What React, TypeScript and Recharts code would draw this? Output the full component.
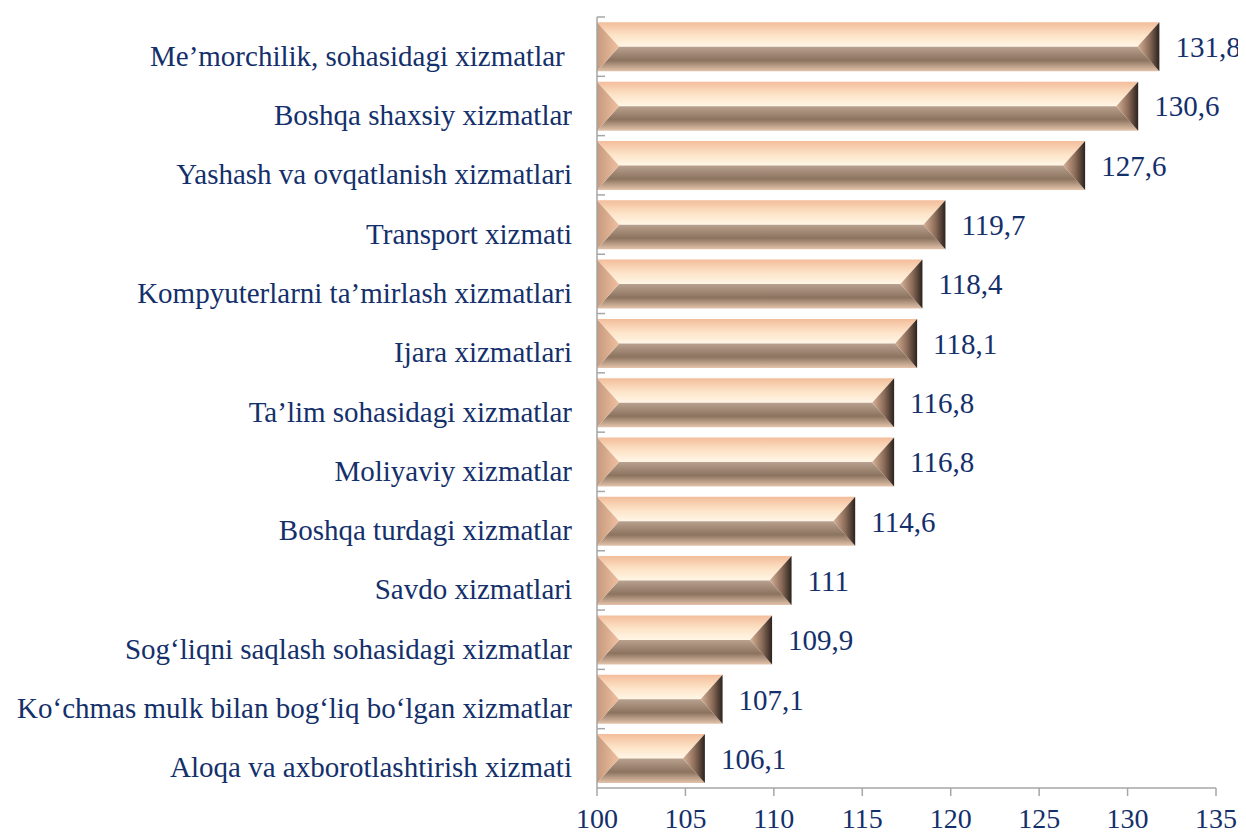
import React from 'react';
import { BarChart, Bar, XAxis, YAxis, LabelList } from 'recharts';

const categories = [
  'Me’morchilik, sohasidagi xizmatlar ',
  'Boshqa shaxsiy xizmatlar',
  'Yashash va ovqatlanish xizmatlari',
  'Transport xizmati',
  'Kompyuterlarni ta’mirlash xizmatlari',
  'Ijara xizmatlari',
  'Ta’lim sohasidagi xizmatlar',
  'Moliyaviy xizmatlar',
  'Boshqa turdagi xizmatlar',
  'Savdo xizmatlari',
  'Sog‘liqni saqlash sohasidagi xizmatlar',
  'Ko‘chmas mulk bilan bog‘liq bo‘lgan xizmatlar',
  'Aloqa va axborotlashtirish xizmati',
];

const values = [131.8, 130.6, 127.6, 119.7, 118.4, 118.1, 116.8, 116.8, 114.6, 111, 109.9, 107.1, 106.1];

const xTicks = [100, 105, 110, 115, 120, 125, 130, 135];

const data = categories.map((name, i) => ({ name, value: values[i] }));

const navy = '#14306b';
const axisGrey = '#a6a6a6';
const fontFamily = '"Liberation Serif", "Times New Roman", serif';

const chartWidth = 1238;
const chartHeight = 827;
const margin = { top: 9, right: 30, left: 0, bottom: 2 };
const yAxisWidth = 589;
const xAxisHeight = 45;
const plotHeight = chartHeight - margin.top - margin.bottom - xAxisHeight;
const step = plotHeight / categories.length;

const BevelBar = (props) => {
  const { x, y, width, height } = props;
  if (!width || !height) return null;
  const d = Math.min(22, width / 2);
  const m = y + height / 2;
  const r = x + width;
  const b = y + height;
  return (
    <g>
      <polygon points={`${x},${y} ${r},${y} ${r - d},${m} ${x + d},${m}`} fill="url(#bevelTop)" />
      <polygon points={`${x + d},${m} ${r - d},${m} ${r},${b} ${x},${b}`} fill="url(#bevelBottom)" />
      <polygon points={`${x},${y} ${x + d},${m} ${x},${b}`} fill="url(#bevelLeft)" />
      <polygon points={`${r},${y} ${r},${b} ${r - d},${m}`} fill="url(#bevelRight)" />
    </g>
  );
};

const CategoryTick = ({ y, payload }) => {
  const axisX = margin.left + yAxisWidth;
  return (
    <g>
      <line x1={axisX} x2={axisX + 8} y1={y - step / 2} y2={y - step / 2} stroke={axisGrey} strokeWidth={1.5} />
      <text
        x={axisX - 25}
        y={y + 9}
        textAnchor="end"
        dominantBaseline="central"
        fontSize={29}
        fill={navy}
        fontFamily={fontFamily}
        style={{ whiteSpace: 'pre' }}
      >
        {payload.value}
      </text>
    </g>
  );
};

const formatValue = (v) => String(v).replace('.', ',');

export default function App() {
  return (
    <div style={{ width: chartWidth, height: chartHeight, fontFamily }}>
      <BarChart
        width={chartWidth}
        height={chartHeight}
        data={data}
        layout="vertical"
        margin={margin}
        barCategoryGap="9%"
      >
        <defs>
          <linearGradient id="bevelTop" x1="0" y1="0" x2="0" y2="1">
            <stop offset="0%" stopColor="#f3bd9b" />
            <stop offset="55%" stopColor="#fde4c8" />
            <stop offset="100%" stopColor="#fff6e6" />
          </linearGradient>
          <linearGradient id="bevelBottom" x1="0" y1="0" x2="0" y2="1">
            <stop offset="0%" stopColor="#b9a18f" />
            <stop offset="55%" stopColor="#8b735f" />
            <stop offset="100%" stopColor="#e4c3aa" />
          </linearGradient>
          <linearGradient id="bevelLeft" x1="0" y1="0" x2="1" y2="0">
            <stop offset="0%" stopColor="#c59a7e" />
            <stop offset="100%" stopColor="#f0bf9f" />
          </linearGradient>
          <linearGradient id="bevelRight" x1="0" y1="0" x2="1" y2="0">
            <stop offset="0%" stopColor="#d8b196" />
            <stop offset="55%" stopColor="#8a6b58" />
            <stop offset="100%" stopColor="#2c221d" />
          </linearGradient>
        </defs>
        <XAxis
          type="number"
          domain={[100, 135]}
          ticks={xTicks}
          allowDataOverflow
          height={xAxisHeight}
          stroke={axisGrey}
          strokeWidth={1.5}
          tickSize={8}
          tickMargin={12}
          tick={{ fontSize: 28, fill: navy, fontFamily }}
        />
        <YAxis
          type="category"
          dataKey="name"
          width={yAxisWidth}
          stroke={axisGrey}
          strokeWidth={1.5}
          tickLine={false}
          tick={<CategoryTick />}
          interval={0}
        />
        <Bar dataKey="value" shape={<BevelBar />} isAnimationActive={false}>
          <LabelList
            dataKey="value"
            position="right"
            offset={16}
            formatter={formatValue}
            fill={navy}
            fontSize={29}
            fontFamily={fontFamily}
          />
        </Bar>
      </BarChart>
    </div>
  );
}
